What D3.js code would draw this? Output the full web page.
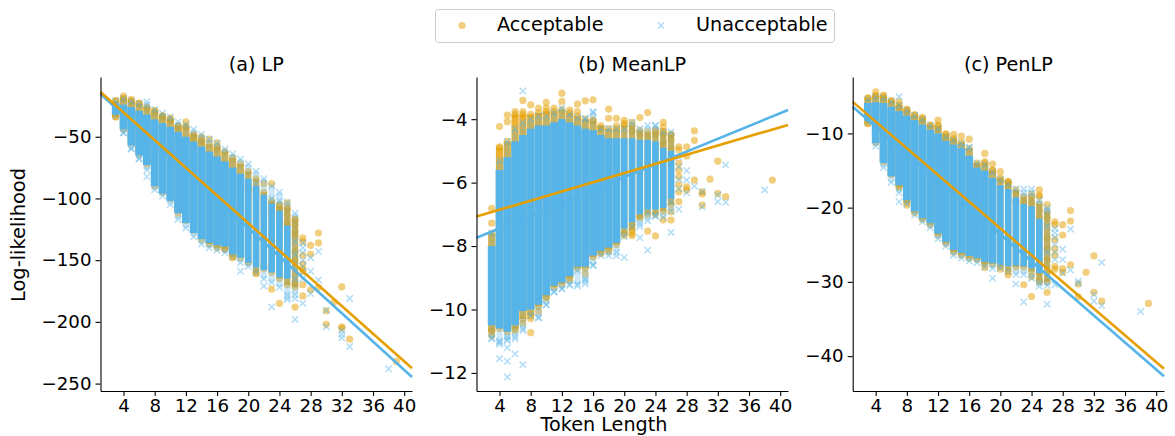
<!DOCTYPE html>
<html><head><meta charset="utf-8">
<script src="https://cdn.jsdelivr.net/npm/d3@7/dist/d3.min.js"></script>
<style>html,body{margin:0;padding:0;background:#fff}svg{display:block}text{font-family:"DejaVu Sans",sans-serif;fill:#000}</style>
</head><body><svg id="c" width="1175" height="436"></svg>
<script>
const xTicks = [4,8,12,16,20,24,28,32,36,40];
const lengths = [3,4,5,6,7,8,9,10,11,12,13,14,15,16,17,18,19,20,21,22,23,24,25,26,27];

// (a) LP
const lpAccHigh   = [-21,-19,-21,-23,-26,-29,-33,-36,-41,-42,-48,-52,-56,-58,-62,-67,-72,-78,-84,-95,-102,-106,-108,-117,-132];
const lpAccLow    = [-34,-44,-55,-64,-72,-90,-95,-100,-112,-118,-126,-133,-137,-140,-141,-147,-148,-152,-160,-155,-160,-165,-170,-172,-170];
const lpUnHigh    = [-21,-19,-21,-23,-24,-28,-31,-34,-38,-40,-44,-48,-52,-55,-60,-64,-68,-72,-78,-84,-90,-95,-103,-112,-125];
const lpUnLow     = [-33,-47,-60,-68,-77,-93,-98,-105,-117,-124,-131,-137,-140,-142,-144,-147,-152,-155,-160,-165,-168,-172,-178,-178,-170];
const lpCoreHigh  = [-23,-24,-26,-29,-32,-36,-39,-42,-46,-50,-54,-58,-62,-66,-70,-75,-80,-84,-90,-97,-104,-110,-122,null,null];
const lpCoreLow   = [-32,-44,-57,-65,-73,-90,-96,-102,-112,-120,-128,-133,-136,-138,-139,-145,-148,-152,-156,-158,-160,-164,-165,null,null];
const lpAccPts = [[3,-20.8],[3,-33.7],[4,-17],[4,-19],[5,-19.7],[5,-21.6],[6,-23],[7,-27],[8,-29],[8,-31],[8,-86.5],[9,-33],[9,-34],[10,-35],[10,-37],[11,-42],[11,-44],[12,-38],[12,-42],[13,-49],[13,-52],[14,-50],[14,-54],[15,-52],[16,-55],[16,-60],[17,-141],[18,-148],[20,-89],[20,-93],[21,-93],[21,-97],[21,-161],[22,-88],[22,-100],[22,-108],[22,-157],[23,-88],[23,-105],[23,-112],[23,-173.5],[24,-105],[24,-109],[24,-112],[24,-119],[24,-185],[25,-103.5],[25,-108],[25,-113.5],[25,-119],[25,-121.6],[26,-117],[26,-121.6],[26,-127],[26,-130],[26,-143],[26,-150],[26,-169],[26,-188],[27,-132],[27,-135],[27,-146],[27,-153],[27,-157],[27,-159],[27,-170],[27,-179],[28,-138],[28,-145],[28,-174],[29,-128],[29,-136],[29,-172],[30,-191],[30,-202],[31,-184],[32,-171.6],[32,-204],[32,-205],[33,-214],[39,-232]];
const lpUnPts = [[4,-46.7],[5,-59.4],[6,-67.5],[7,-21.6],[7,-82.4],[21,-88.3],[23,-100],[24,-102],[19,-159],[22,-171],[23,-188],[25,-180],[25,-182],[26,-181],[26,-198],[26,-135],[26,-145],[26,-155],[26,-165],[27,-136],[27,-140],[27,-144],[27,-150],[27,-155],[27,-160],[27,-165],[27,-185],[28,-159],[28,-177],[28,-148],[29,-143],[29,-166],[30,-190.5],[30,-204],[32,-207],[32,-210],[32,-213],[33,-181],[33,-220],[38,-238]];
const lpLineAcc = [[1.05,-13.7],[41,-237.6]];
const lpLineUn  = [[1.05,-15.4],[41,-244.6]];

// (b) MeanLP
const mlAccHigh   = [-7.6,-4.9,-4.7,-3.85,-3.85,-3.85,-3.8,-3.75,-3.75,-3.7,-3.8,-3.9,-4,-4.05,-4.2,-4.3,-4.3,-4.2,-4.2,-4.35,-4.4,-4.4,-4.4,-4.5,-4.8];
const mlAccLow    = [-10.7,-10.6,-10.7,-10.6,-10.3,-10.2,-9.9,-9.6,-9.3,-9.2,-9,-8.7,-8.7,-8.35,-8.2,-8.1,-7.95,-7.6,-7.5,-7.1,-7,-7,-6.9,-6.7,-6.6];
const mlUnHigh    = [-7.6,-5.3,-4.7,-4.3,-4.1,-4,-3.9,-3.9,-3.8,-3.65,-3.85,-3.95,-4,-3.8,-4.3,-4.3,-4.3,-4.3,-4.1,-4.3,-4.2,-4.2,-4.4,-4.4,-4.6];
const mlUnLow     = [-10.9,-11,-10.95,-10.85,-10.6,-10.2,-10.25,-9.85,-9.45,-9.35,-9.2,-9.2,-9.1,-8.6,-8.3,-8.3,-8.2,-7.7,-7.4,-7.3,-7.2,-7.05,-7.1,-6.9,-6.8];
const mlCoreHigh  = [-8,-5.6,-5.2,-4.7,-4.5,-4.3,-4.2,-4.2,-4.1,-4,-4.1,-4.2,-4.3,-4.35,-4.5,-4.6,-4.6,-4.6,-4.6,-4.65,-4.65,-4.7,-4.9,-5,null];
const mlCoreLow   = [-10.5,-10.6,-10.7,-10.5,-10.05,-10,-9.85,-9.55,-9.25,-9.15,-8.95,-8.65,-8.65,-8.3,-8.15,-8.05,-7.9,-7.45,-7.25,-7,-6.85,-6.85,-6.8,-6.5,null];
const mlAccPts = [[3,-6.81],[3,-7.28],[3,-10.66],[3,-10.82],[4,-4.23],[4,-4.87],[5,-3.87],[5,-4.08],[6,-3.76],[6,-10.66],[7,-3.76],[7,-3.41],[7,-10.43],[8,-3.55],[8,-10.29],[8,-10.73],[9,-3.65],[9,-10.06],[10,-3.47],[10,-3.65],[10,-9.64],[11,-3.65],[12,-3.18],[12,-3.44],[13,-3.71],[13,-9.08],[14,-3.52],[14,-3.76],[15,-3.42],[15,-8.87],[16,-3.39],[16,-4.02],[17,-4.29],[17,-8.24],[18,-3.68],[18,-3.97],[18,-8.17],[19,-4.21],[19,-3.97],[20,-4.04],[20,-4.13],[20,-7.67],[21,-4.10],[21,-4.39],[21,-7.34],[21,-7.6],[21,-7.67],[22,-3.95],[22,-4.5],[22,-7.07],[23,-3.79],[23,-4.55],[23,-7.53],[24,-4.34],[24,-4.5],[24,-7.68],[25,-4.10],[25,-4.25],[25,-4.39],[25,-4.5],[25,-4.71],[25,-4.81],[25,-7.18],[26,-4.47],[26,-4.65],[26,-4.92],[26,-7.18],[26,-6.92],[27,-4.87],[27,-4.97],[27,-5.39],[27,-5.6],[27,-5.81],[27,-6.07],[27,-6.29],[27,-6.6],[28,-4.87],[28,-5.16],[28,-6.13],[28,-6.23],[29,-4.37],[29,-4.67],[29,-5.92],[30,-6.29],[30,-6.36],[30,-6.71],[31,-5.89],[32,-5.32],[32,-6.34],[33,-6.44],[39,-5.92]];
const mlUnPts = [[3,-10.92],[4,-11.03],[4,-11.1],[4,-11.55],[5,-10.87],[5,-10.98],[5,-11.2],[5,-11.63],[5,-12.13],[6,-10.92],[6,-11.4],[7,-10.66],[7,-11.74],[7,-3.11],[8,-9.89],[9,-10.27],[10,-9.85],[11,-9.45],[12,-9.35],[13,-9.24],[14,-9.26],[14,-8.77],[15,-9.19],[15,-9.03],[15,-3.97],[16,-8.61],[16,-3.76],[19,-8.31],[20,-8.36],[22,-7.39],[22,-7.74],[23,-8.13],[23,-6.97],[24,-4.21],[24,-7.05],[26,-7.57],[26,-6.6],[27,-6.84],[27,-5.2],[27,-5.5],[27,-5.9],[27,-6.2],[28,-5.62],[28,-5.92],[28,-6.32],[29,-6.11],[30,-6.29],[30,-6.76],[32,-6.39],[32,-6.6],[33,-5.44],[33,-6.62],[38,-6.23]];
const mlLineAcc = [[1.05,-7.07],[41,-4.18]];
const mlLineUn  = [[1.05,-7.74],[41,-3.71]];

// (c) PenLP
const plAccHigh   = [-5.2,-4.9,-5,-5.6,-6.2,-6.8,-7.5,-8,-8.9,-9,-10.1,-10.7,-11.2,-12,-14,-14,-15,-16,-16.5,-17.6,-18.5,-18.6,-19.5,-20.5,-22];
const plAccLow    = [-8.7,-11.2,-13.8,-15.6,-17.2,-19.3,-20.7,-21.6,-22.3,-23.7,-24.8,-26,-26.4,-26.8,-27,-27.6,-27.6,-27.9,-28.6,-28,-28,-28.6,-29.8,-30,-28.5];
const plUnHigh    = [-5.4,-5.1,-5.2,-5.7,-6.2,-6.9,-7.6,-8.1,-8.9,-9.3,-10.4,-10.9,-11.3,-11.9,-14,-14.2,-15.2,-16.2,-16.8,-17.5,-18,-18,-19,-20,-22.5];
const plUnLow     = [-8.5,-11.7,-14.6,-16.6,-18,-19.5,-21,-21.9,-22.7,-24.2,-25.2,-26.4,-26.8,-27.2,-27.4,-28,-28.2,-28.2,-28.6,-29,-29,-29.5,-30.2,-30.5,-29];
const plCoreHigh  = [-5.9,-5.8,-5.9,-6.4,-7,-7.6,-8.2,-8.8,-9.5,-10,-11,-11.5,-12,-13,-14.6,-15,-16,-17,-17.5,-18.6,-19.5,-19.8,-21.5,null,null];
const plCoreLow   = [-8.3,-11.3,-14,-15.8,-17,-19,-20.5,-21.4,-22.1,-23.5,-24.6,-25.7,-26.1,-26.5,-26.8,-27.3,-27.5,-27.7,-27.9,-27.8,-27.9,-28.2,-28.8,null,null];
const plAccPts = [[3,-5.29],[3,-8.66],[4,-4.4],[4,-4.98],[5,-4.84],[5,-5.29],[6,-5.61],[7,-5.74],[7,-6.5],[7,-17.18],[8,-6.77],[8,-7.09],[8,-19.65],[9,-7.54],[10,-7.85],[10,-8.2],[11,-8.88],[12,-8.2],[12,-8.88],[12,-9.55],[13,-10.09],[13,-10.68],[14,-10.14],[14,-10.9],[15,-10.36],[16,-10.77],[17,-14.27],[18,-12.7],[18,-13.8],[18,-28.07],[19,-14.13],[19,-14.94],[20,-15.16],[20,-16.3],[20,-28.29],[21,-16.7],[21,-16.5],[21,-17.2],[21,-29.05],[22,-18.1],[22,-19.2],[23,-19.2],[23,-30.4],[24,-18.2],[24,-19.4],[24,-29.3],[24,-31.97],[25,-17.6],[25,-18.5],[25,-18.3],[25,-20.3],[25,-21.2],[25,-28.8],[25,-30],[26,-19.6],[26,-21.4],[26,-24.1],[26,-25.5],[26,-27],[26,-31.4],[27,-21.9],[27,-22.3],[27,-24.3],[27,-25.5],[27,-26.4],[27,-27.9],[27,-28.3],[28,-22.3],[28,-23.7],[28,-28.2],[28,-28.7],[29,-20.4],[29,-21.8],[29,-27.7],[30,-30.3],[30,-32],[31,-28.7],[32,-26.5],[32,-31.4],[33,-32.6],[39,-32.9]];
const plUnPts = [[7,-5.07],[7,-19.2],[15,-11.9],[16,-11.9],[23,-17.5],[24,-17.5],[19,-29.5],[22,-30.3],[23,-32.7],[25,-30.6],[26,-33],[26,-20.4],[26,-22.5],[26,-26],[27,-30.4],[27,-22.8],[27,-23.4],[27,-24],[27,-25],[27,-26],[27,-27],[28,-25.6],[28,-27],[28,-28.8],[29,-22.9],[29,-28.4],[30,-29.9],[30,-30.2],[32,-31.7],[32,-32.6],[33,-27.4],[33,-33.2],[38,-34]];
const plLineAcc = [[1.05,-5.75],[41,-41.7]];
const plLineUn  = [[1.05,-6.4],[41,-42.7]];

const ACC = "#E69F00", UN = "#56B4E9";
const svg = d3.select("#c");
const xDomain = [1.05, 41];
const bandMaxLength = 26, splitLength = 20;

const panels = [
 {title:"(a) LP", left:100.5, right:412, yd:[-256,-1.6], yt:[-50,-100,-150,-200,-250],
  accHigh:lpAccHigh,accLow:lpAccLow,unHigh:lpUnHigh,unLow:lpUnLow,coreHigh:lpCoreHigh,coreLow:lpCoreLow,accPts:lpAccPts,unPts:lpUnPts,lineAcc:lpLineAcc,lineUn:lpLineUn},
 {title:"(b) MeanLP", left:476.5, right:788, yd:[-12.57,-2.67], yt:[-4,-6,-8,-10,-12],
  accHigh:mlAccHigh,accLow:mlAccLow,unHigh:mlUnHigh,unLow:mlUnLow,coreHigh:mlCoreHigh,coreLow:mlCoreLow,accPts:mlAccPts,unPts:mlUnPts,lineAcc:mlLineAcc,lineUn:mlLineUn},
 {title:"(c) PenLP", left:852.7, right:1164, yd:[-44.7,-2.4], yt:[-10,-20,-30,-40],
  accHigh:plAccHigh,accLow:plAccLow,unHigh:plUnHigh,unLow:plUnLow,coreHigh:plCoreHigh,coreLow:plCoreLow,accPts:plAccPts,unPts:plUnPts,lineAcc:plLineAcc,lineUn:plLineUn}
];
const plotTop=77, plotBottom=391;

function xMark(sel, s){
  sel.append("path").attr("d",`M${-s},${-s}L${s},${s}M${-s},${s}L${s},${-s}`)
    .attr("fill","none").attr("stroke",UN).attr("stroke-width",1.5);
}

panels.forEach(p=>{
  const x=d3.scaleLinear().domain(xDomain).range([p.left,p.right]);
  const y=d3.scaleLinear().domain(p.yd).range([plotBottom,plotTop]);
  const g=svg.append("g");
  const step=x(1)-x(0);
  const rows=lengths.map((L,i)=>({L,i}));
  const bandRows=rows.filter(d=>d.L<=bandMaxLength);

  // acceptable
  const acc=g.append("g");
  const accW=d=>d.L>=splitLength?6.2:7.2;
  acc.selectAll("rect").data(bandRows).join("rect")
    .attr("x",d=>x(d.L)-accW(d)/2).attr("width",accW)
    .attr("y",d=>y(p.accHigh[d.i])).attr("height",d=>y(p.accLow[d.i])-y(p.accHigh[d.i]))
    .attr("fill",ACC).attr("fill-opacity",0.8);
  const accAll=p.accPts.concat(bandRows.map(d=>[d.L,p.accHigh[d.i]]),bandRows.map(d=>[d.L,p.accLow[d.i]]));
  acc.selectAll("circle").data(accAll).join("circle")
    .attr("cx",d=>x(d[0])).attr("cy",d=>y(d[1])).attr("r",3.6)
    .attr("fill",ACC).attr("fill-opacity",0.5);

  // unacceptable
  const un=g.append("g");
  un.selectAll("rect.o").data(bandRows).join("rect").attr("class","o")
    .attr("x",d=>x(d.L)-3).attr("width",6)
    .attr("y",d=>y(p.unHigh[d.i])).attr("height",d=>y(p.unLow[d.i])-y(p.unHigh[d.i]))
    .attr("fill",UN).attr("fill-opacity",0.3);
  const coreW=d=>d.L>=splitLength?6.6:step;
  un.selectAll("rect.c").data(rows.filter(d=>p.coreHigh[d.i]!==null)).join("rect").attr("class","c")
    .attr("x",d=>x(d.L)-coreW(d)/2).attr("width",coreW)
    .attr("y",d=>y(p.coreHigh[d.i])).attr("height",d=>y(p.coreLow[d.i])-y(p.coreHigh[d.i]))
    .attr("fill",UN);
  const unAll=p.unPts.concat(bandRows.map(d=>[d.L,p.unHigh[d.i]]),bandRows.map(d=>[d.L,p.unLow[d.i]]));
  un.selectAll("g").data(unAll).join("g")
    .attr("transform",d=>`translate(${x(d[0])},${y(d[1])})`)
    .attr("opacity",0.45).call(xMark,3.2);

  // regression lines
  const line=d3.line().x(d=>x(d[0])).y(d=>y(d[1]));
  g.append("path").datum(p.lineUn).attr("d",line).attr("fill","none").attr("stroke",UN).attr("stroke-width",2.6);
  g.append("path").datum(p.lineAcc).attr("d",line).attr("fill","none").attr("stroke",ACC).attr("stroke-width",2.6);

  // axes
  const fmt=d=>String(d).replace("-","\u2212");
  const ax=svg.append("g").attr("transform",`translate(0,${plotBottom})`)
    .call(d3.axisBottom(x).tickValues(xTicks).tickSize(5).tickPadding(3).tickSizeOuter(0));
  const ay=svg.append("g").attr("transform",`translate(${p.left},0)`)
    .call(d3.axisLeft(y).tickValues(p.yt).tickFormat(fmt).tickSize(5).tickPadding(4).tickSizeOuter(0));
  [ax,ay].forEach(a=>{a.selectAll("text").attr("font-size",18.2).attr("font-family","DejaVu Sans");
    a.selectAll("line,path").attr("stroke","#000").attr("stroke-width",1.1);});
  svg.append("text").attr("x",(p.left+p.right)/2).attr("y",71).attr("text-anchor","middle")
    .attr("font-size",19.2).text(p.title);
});

svg.append("text").attr("x",604).attr("y",431).attr("text-anchor","middle").attr("font-size",19.2).text("Token Length");
svg.append("text").attr("transform","translate(25,235) rotate(-90)").attr("text-anchor","middle").attr("font-size",19.4).text("Log-likelihood");

// legend
const lg=svg.append("g");
lg.append("rect").attr("x",435.5).attr("y",9.5).attr("width",399).attr("height",33).attr("rx",3)
  .attr("fill","#fff").attr("stroke","#ccc").attr("stroke-width",1);
lg.append("circle").attr("cx",462).attr("cy",25.5).attr("r",3.6).attr("fill",ACC).attr("fill-opacity",0.5);
lg.append("g").attr("transform","translate(661,25.5)").attr("opacity",0.45).call(xMark,3.2);
lg.append("text").attr("x",497).attr("y",31).attr("font-size",19.2).text("Acceptable");
lg.append("text").attr("x",696).attr("y",31).attr("font-size",19.2).text("Unacceptable");
</script></body></html>
